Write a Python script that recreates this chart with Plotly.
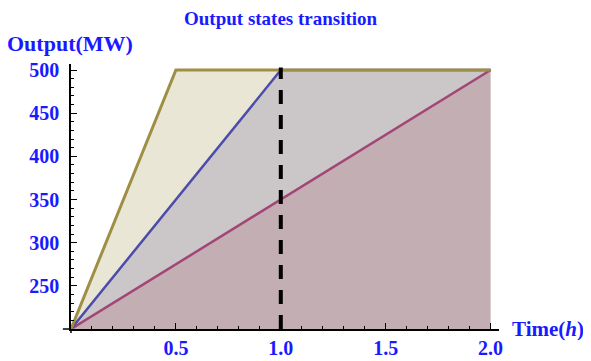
import plotly.graph_objects as go

# time points (h) and output of the three ramp cases (MW)
time_h = [0, 0.5, 1.0, 2.0]
out_fast = [200, 500, 500, 500]
out_mid = [200, 350, 500, 500]
out_slow = [200, 275, 350, 500]
x_ticks = [0.5, 1.0, 1.5, 2.0]
x_tick_text = ["0.5", "1.0", "1.5", "2.0"]
y_ticks = [250, 300, 350, 400, 450, 500]
switch_time = 1.0
blue_txt = "#1a1aff"
font_name = "Liberation Serif"

fig = go.Figure()
# fills stacked from the bottom up so overlaps keep the mathematica tones
fig.add_trace(go.Scatter(x=time_h, y=out_slow, mode="lines", fill="tozeroy",
                         fillcolor="#c2aeb3", line=dict(color="#a34576", width=2.5)))
fig.add_trace(go.Scatter(x=time_h, y=out_mid, mode="lines", fill="tonexty",
                         fillcolor="#cbc7c8", line=dict(color="#4c4cab", width=2.5)))
fig.add_trace(go.Scatter(x=time_h, y=out_fast, mode="lines", fill="tonexty",
                         fillcolor="#e9e6d5", line=dict(color="#9e8f45", width=3)))
# dashed line at the switch time
fig.add_trace(go.Scatter(x=[switch_time, switch_time], y=[200, 503], mode="lines",
                         line=dict(color="black", width=4, dash="14px,11px")))

axis_font = dict(family=font_name, size=20, color=blue_txt, weight="bold")
fig.update_xaxes(range=[0, 2.04], tickvals=x_ticks, ticktext=x_tick_text,
                 automargin=False,
                 showgrid=False, zeroline=False, showline=True, linecolor="black",
                 linewidth=1.5, ticks="inside", ticklen=6, tickwidth=1.2,
                 tickcolor="black", tickfont=axis_font,
                 minor=dict(dtick=0.1, tick0=0, ticks="inside", ticklen=3.5,
                            tickcolor="black", tickwidth=1))
fig.update_yaxes(range=[200, 507], tickvals=y_ticks, automargin=False,
                 showgrid=False, zeroline=False, showline=True, linecolor="black",
                 linewidth=1.5, ticks="inside", ticklen=6, tickwidth=1.2,
                 tickcolor="black", tickfont=axis_font, ticklabelstandoff=6,
                 minor=dict(dtick=10, tick0=200, ticks="inside", ticklen=3.5,
                            tickcolor="black", tickwidth=1))

# small axis overhangs past the origin
fig.add_shape(type="line", xref="paper", yref="paper", x0=-0.019, x1=0, y0=0, y1=0,
              line=dict(color="black", width=1.5))
fig.add_shape(type="line", xref="paper", yref="paper", x0=0, x1=0, y0=-0.015, y1=0,
              line=dict(color="black", width=1.5))

fig.add_annotation(text="<b>Output states transition</b>", xref="paper", yref="paper",
                   x=0.49, xanchor="center", y=1.172, yanchor="middle", showarrow=False,
                   font=dict(family=font_name, size=19, color=blue_txt))
fig.add_annotation(text="<b>Output(MW)</b>", xref="paper", yref="paper",
                   x=-0.002, xanchor="center", y=1.079, yanchor="middle", showarrow=False,
                   font=dict(family=font_name, size=22, color=blue_txt))
fig.add_annotation(text="<b>Time(<i>h</i>)</b>", xref="paper", yref="paper",
                   x=1.0, xanchor="left", xshift=11, y=0, yanchor="middle",
                   showarrow=False,
                   font=dict(family=font_name, size=21, color=blue_txt))

# page body adds an 8px offset, so margins are shifted up/left by that much
fig.update_layout(width=591, height=361, showlegend=False,
                  margin=dict(l=63, r=100, t=56, b=40),
                  plot_bgcolor="white", paper_bgcolor="white")

fig.write_html("out.html")
